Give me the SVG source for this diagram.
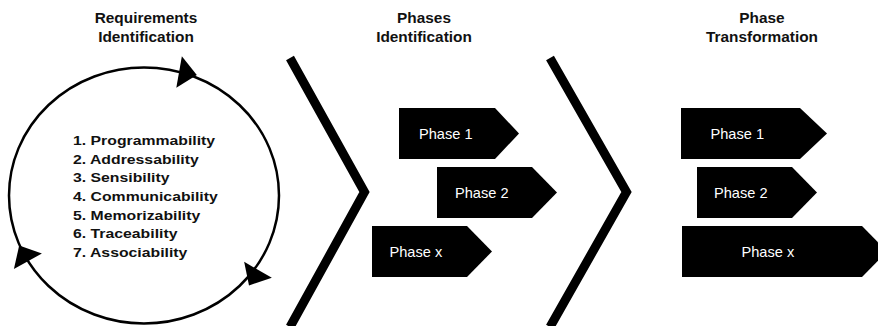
<svg xmlns="http://www.w3.org/2000/svg" xmlns:xlink="http://www.w3.org/1999/xlink" width="878" height="326" viewBox="0 0 878 326">
  <style>
    .title { font-family: "Liberation Sans", Arial, Helvetica, sans-serif; font-weight: bold; font-size: 14px; fill: #111; text-anchor: middle; }
    .item { font-family: "Liberation Sans", Arial, Helvetica, sans-serif; font-weight: bold; font-size: 13.5px; fill: #111; }
    .ptext { font-family: "Liberation Sans", Arial, Helvetica, sans-serif; font-size: 14.6px; fill: #fff; }
    .box { fill: #000; }
    .chev { fill: none; stroke: #000; stroke-width: 9; stroke-linejoin: miter; stroke-miterlimit: 10; stroke-linecap: butt; }
    .ring { fill: none; stroke: #000; stroke-width: 2.5; }
  </style>
  <defs>
    <path id="ahead" d="M12,0 L-6,-16 L-6,16 Z" fill="#000"/>
  </defs>
  <rect width="878" height="326" fill="#fff"/>

  <g id="title-requirements" transform="translate(146,0) scale(1.1,1)">
    <text class="title" x="0" y="23">Requirements</text>
    <text class="title" x="0" y="42">Identification</text>
  </g>
  <g id="title-phases" transform="translate(424,0) scale(1.1,1)">
    <text class="title" x="0" y="23">Phases</text>
    <text class="title" x="0" y="42">Identification</text>
  </g>
  <g id="title-transformation" transform="translate(762,0) scale(1.1,1)">
    <text class="title" x="0" y="23">Phase</text>
    <text class="title" x="0" y="42">Transformation</text>
  </g>

  <g id="requirements-cycle">
    <ellipse class="ring" cx="144" cy="195.5" rx="135" ry="128"/>
    <g transform="matrix(1.17 0 0 1 73 0)">
      <text class="item" x="0" y="145">1. Programmability</text>
      <text class="item" x="0" y="163.7">2. Addressability</text>
      <text class="item" x="0" y="182.3">3. Sensibility</text>
      <text class="item" x="0" y="201">4. Communicability</text>
      <text class="item" x="0" y="219.6">5. Memorizability</text>
      <text class="item" x="0" y="238.2">6. Traceability</text>
      <text class="item" x="0" y="256.8">7. Associability</text>
    </g>
  </g>

  <g id="connectors">
    <use xlink:href="#ahead" href="#ahead" transform="translate(185,73) rotate(10)"/>
    <use xlink:href="#ahead" href="#ahead" transform="translate(255,275) rotate(120)"/>
    <use xlink:href="#ahead" href="#ahead" transform="translate(25,256) rotate(-119)"/>
    <polyline class="chev" points="290,58 364.5,192 290,327"/>
    <polyline class="chev" points="550,58 626.5,192 550,327"/>
  </g>

  <g id="pi-phase1">
    <polygon class="box" points="399,108 495,108 519,133.5 495,159 399,159"/>
    <text class="ptext" x="419" y="138.5">Phase 1</text>
  </g>
  <g id="pi-phase2">
    <polygon class="box" points="437,167 532,167 557,192.5 532,218 437,218"/>
    <text class="ptext" x="455" y="197.5">Phase 2</text>
  </g>
  <g id="pi-phasex">
    <polygon class="box" points="372,226 467,226 492,251.5 467,277 372,277"/>
    <text class="ptext" x="389.5" y="256.5">Phase x</text>
  </g>

  <g id="pt-phase1">
    <polygon class="box" points="681,108 800,108 827,133.5 800,159 681,159"/>
    <text class="ptext" x="710.5" y="138.5">Phase 1</text>
  </g>
  <g id="pt-phase2">
    <polygon class="box" points="697,167 792,167 817,192.5 792,218 697,218"/>
    <text class="ptext" x="714" y="197.5">Phase 2</text>
  </g>
  <g id="pt-phasex">
    <polygon class="box" points="682,226 862,226 887,251.5 862,277 682,277"/>
    <text class="ptext" x="741.5" y="256.5">Phase x</text>
  </g>
</svg>
